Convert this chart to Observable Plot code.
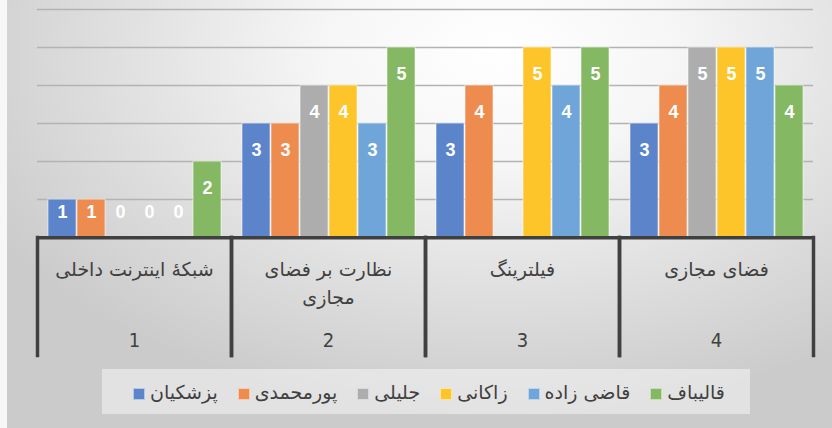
<!DOCTYPE html>
<html>
<head>
<meta charset="utf-8">
<script src="https://cdn.jsdelivr.net/npm/d3@7"></script>
<script src="https://cdn.jsdelivr.net/npm/@observablehq/plot@0.6"></script>
<style>
  html, body { margin: 0; padding: 0; }
  #wrap {
    position: relative; width: 832px; height: 428px; overflow: hidden;
    background: radial-gradient(ellipse 70% 85% at 60% 12%, #ffffff 0%, #f6f6f6 30%, #e0e0e0 65%, #cbcbcb 100%);
    font-family: "DejaVu Sans", "Noto Sans", sans-serif;
  }
  #strip { position: absolute; left: 0; top: 0; width: 7px; height: 428px; background: #f7f7f7; }
  #chart { position: absolute; left: 0; top: 0; }
  #legend {
    position: absolute; left: 102px; top: 369px; width: 648px; height: 45px;
    background: rgba(245,245,245,0.55);
    display: flex; align-items: center; justify-content: center; gap: 20px;
    direction: ltr; padding-left: 6px; box-sizing: border-box;
    font-size: 19px; color: #404040;
  }
  .item { display: flex; align-items: center; }
  .sw { width: 12px; height: 12px; margin-right: 5px; margin-top: 4px; box-sizing: border-box; border: 1px solid rgba(255,255,255,0.55); }
</style>
</head>
<body>
<div id="wrap">
  <div id="strip"></div>
  <div id="chart"></div>
  <div id="legend"></div>
</div>
<script>
// Categories (left to right) and their wrapped labels
const categories = ["شبکهٔ اینترنت داخلی", "نظارت بر فضای مجازی", "فیلترینگ", "فضای مجازی"];
const categoryLabels = ["شبکهٔ اینترنت داخلی", "نظارت بر فضای\nمجازی", "فیلترینگ", "فضای مجازی"];
const categoryNumbers = ["1", "2", "3", "4"];

// Series (bar order within each group)
const series = ["پزشکیان", "پورمحمدی", "جلیلی", "زاکانی", "قاضی زاده", "قالیباف"];
const colors = ["#5b84ca", "#ee8c4f", "#adadad", "#fdc52a", "#6fa5d8", "#84b863"];

// Values per series, in category order (null = no bar)
const pezeshkian = [1, 3, 3, 3];
const pourmohammadi = [1, 3, 4, 4];
const jalili = [0, 4, null, 5];
const zakani = [0, 4, 5, 5];
const ghazizadeh = [0, 3, 4, 5];
const ghalibaf = [2, 5, 5, 4];
const valuesBySeries = [pezeshkian, pourmohammadi, jalili, zakani, ghazizadeh, ghalibaf];

const yTicks = [1, 2, 3, 4, 5, 6];

const data = [];
series.forEach((s, j) => {
  categories.forEach((c, i) => {
    data.push({cat: c, series: s, value: valuesBySeries[j][i]});
  });
});
const present = data.filter(d => d.value != null);
const cats = categories.map((c, i) => ({cat: c, label: categoryLabels[i], num: categoryNumbers[i]}));

const chart = Plot.plot({
  width: 832,
  height: 365,
  marginTop: 9,
  marginBottom: 10,
  marginLeft: 37,
  marginRight: 19,
  style: {background: "transparent", fontFamily: "\"DejaVu Sans\", sans-serif", overflow: "visible"},
  fx: {domain: categories, padding: 0, axis: null},
  x: {domain: series, paddingInner: 0.035, paddingOuter: 0.36, axis: null},
  y: {domain: [-3.1, 6], axis: null},
  color: {domain: series, range: colors},
  marks: [
    Plot.ruleY(yTicks, {stroke: "#b3b3b3", strokeWidth: 1.5}),
    Plot.barY(present, {fx: "cat", x: "series", y: "value", fill: "series", stroke: "#ffffff", strokeOpacity: 0.55, strokeWidth: 1}),
    Plot.text(present, {
      fx: "cat", x: "series",
      y: d => d.value >= 2 ? d.value - 0.71 : 0.66,
      text: d => String(d.value),
      fill: "#ffffff", fontWeight: "bold", fontSize: 18,
      fontFamily: "\"Liberation Sans\", Arial, sans-serif"
    }),
    Plot.ruleY([0], {stroke: "#404040", strokeWidth: 3.5}),
    Plot.frame({anchor: "left", insetTop: 228, stroke: "#404040", strokeWidth: 3.5}),
    Plot.frame({anchor: "right", insetTop: 228, stroke: "#404040", strokeWidth: 3.5}),
    Plot.text(cats, {fx: "cat", y: -0.5, text: "label", lineAnchor: "top", lineHeight: 1.45, fontSize: 19, fill: "#404040"}),
    Plot.text(cats, {fx: "cat", y: -2.71, text: "num", fontSize: 20, fill: "#404040",
      fontFamily: "\"Liberation Sans Narrow\", \"DejaVu Sans Condensed\", sans-serif"})
  ]
});
document.getElementById("chart").appendChild(chart);

const legend = document.getElementById("legend");
series.forEach((s, j) => {
  const item = document.createElement("div");
  item.className = "item";
  const sw = document.createElement("span");
  sw.className = "sw";
  sw.style.background = colors[j];
  const t = document.createElement("span");
  t.textContent = s;
  item.appendChild(sw);
  item.appendChild(t);
  legend.appendChild(item);
});
</script>
</body>
</html>
